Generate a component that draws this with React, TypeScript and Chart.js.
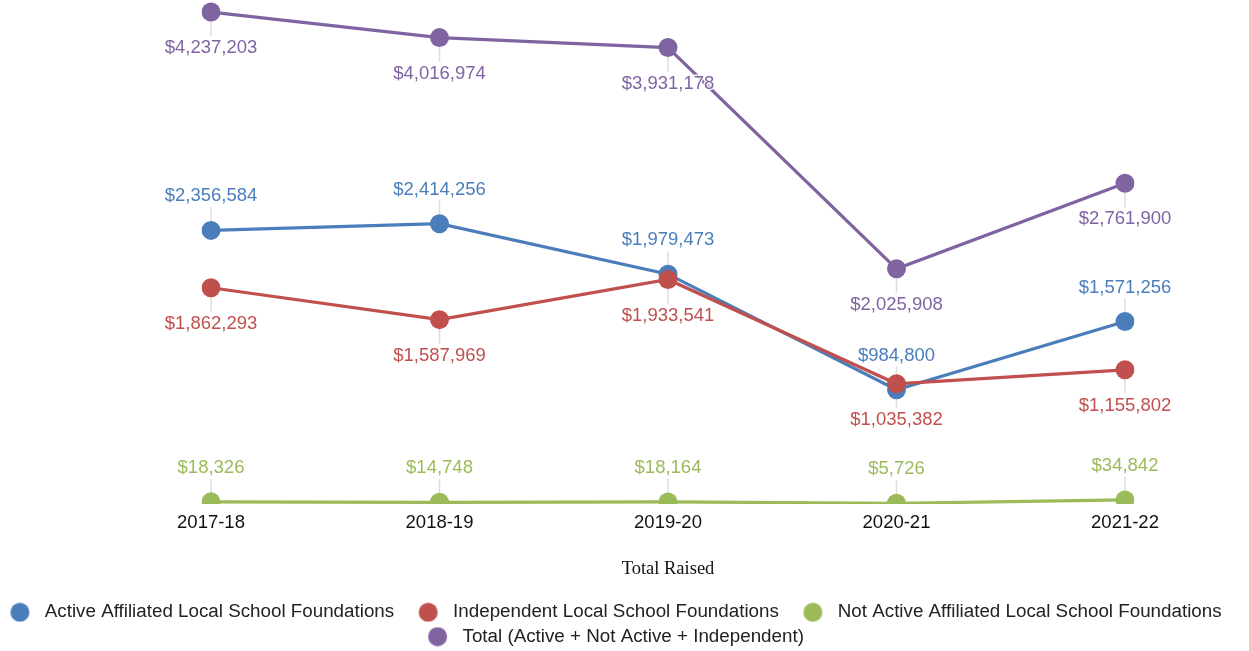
import React, { useEffect, useRef } from "react";
import { Chart, registerables } from "chart.js";

Chart.register(...registerables);

const categories = ["2017-18", "2018-19", "2019-20", "2020-21", "2021-22"];
const activeValues = [2356584, 2414256, 1979473, 984800, 1571256];
const independentValues = [1862293, 1587969, 1933541, 1035382, 1155802];
const notActiveValues = [18326, 14748, 18164, 5726, 34842];
const totalValues = [4237203, 4016974, 3931178, 2025908, 2761900];

const seriesNames = [
  "Active Affiliated Local School Foundations",
  "Independent Local School Foundations",
  "Not Active Affiliated Local School Foundations",
  "Total (Active + Not Active + Independent)",
];
const seriesColors = ["#4A7EBB", "#C0504D", "#9BBB59", "#8064A2"];
const labelSides = ["above", "below", "above", "below"];
const drawOrder = [1, 0, 2, 3];

const Y_MIN = 0;
const Y_MAX = 4341000;
const FONT = "'Liberation Sans', Arial, Helvetica, sans-serif";
const FONT_SIZE = 18.5;
const LEGEND_FONT_SIZE = 18.8;

const fmt = (v: number) => "$" + v.toLocaleString("en-US");

const leaderPlugin = {
  id: "leaderLines",
  beforeDatasetsDraw(chart: any) {
    const ctx = chart.ctx;
    ctx.save();
    ctx.strokeStyle = "#dedede";
    ctx.lineWidth = 1.5;
    chart.data.datasets.forEach((ds: any, di: number) => {
      const meta = chart.getDatasetMeta(di);
      const side = labelSides[di];
      meta.data.forEach((pt: any) => {
        ctx.beginPath();
        if (side === "above") {
          ctx.moveTo(pt.x, pt.y);
          ctx.lineTo(pt.x, pt.y - 23);
        } else {
          ctx.moveTo(pt.x, pt.y);
          ctx.lineTo(pt.x, pt.y + 24);
        }
        ctx.stroke();
      });
    });
    ctx.restore();
  },
  afterDatasetsDraw(chart: any) {
    const ctx = chart.ctx;
    ctx.save();
    ctx.font = `${FONT_SIZE}px ${FONT}`;
    ctx.textAlign = "center";
    ctx.textBaseline = "middle";
    ctx.lineJoin = "round";
    chart.data.datasets.forEach((ds: any, di: number) => {
      const meta = chart.getDatasetMeta(di);
      const side = labelSides[di];
      meta.data.forEach((pt: any, i: number) => {
        const text = fmt(ds.data[i]);
        const y = side === "above" ? pt.y - 34 : pt.y + 36;
        ctx.strokeStyle = "rgba(255,255,255,0.85)";
        ctx.lineWidth = 3;
        ctx.strokeText(text, pt.x, y);
        ctx.fillStyle = seriesColors[di];
        ctx.fillText(text, pt.x, y);
      });
    });
    ctx.restore();
  },
};

function makeMarker(color: string) {
  const c = document.createElement("canvas");
  c.width = 44;
  c.height = 20;
  const g = c.getContext("2d")!;
  g.fillStyle = color;
  g.beginPath();
  g.arc(28.5, 10, 9.5, 0, Math.PI * 2);
  g.fill();
  return c;
}

export default function App() {
  const ref = useRef<HTMLCanvasElement | null>(null);

  useEffect(() => {
    if (!ref.current) return;
    const markers = seriesColors.map(makeMarker);
    const valueSets = [activeValues, independentValues, notActiveValues, totalValues];
    const chart = new Chart(ref.current, {
      type: "line",
      data: {
        labels: categories,
        datasets: valueSets.map((vals, i) => ({
          label: seriesNames[i],
          data: vals,
          order: drawOrder[i],
          borderColor: seriesColors[i],
          backgroundColor: seriesColors[i],
          pointBackgroundColor: seriesColors[i],
          pointBorderColor: seriesColors[i],
          pointRadius: 9.5,
          pointBorderWidth: 0,
          borderWidth: 3.2,
          tension: 0,
          fill: false,
        })),
      },
      options: {
        animation: false,
        responsive: true,
        maintainAspectRatio: false,
        layout: { autoPadding: false, padding: { top: 0, bottom: -5, left: -18, right: 18 } },
        scales: {
          x: {
            offset: false,
            grid: { display: false, drawTicks: false, tickLength: 0 },
            border: { display: false },
            ticks: {
              color: "#111",
              padding: 8,
              font: { family: FONT, size: FONT_SIZE },
              maxRotation: 0,
            },
            title: {
              display: true,
              text: "Total Raised",
              color: "#111",
              font: { family: "'Liberation Serif', 'Times New Roman', serif", size: FONT_SIZE },
              padding: { top: 16, bottom: 17 },
            },
          },
          y: {
            min: Y_MIN,
            max: Y_MAX,
            display: true,
            position: "left",
            grid: { display: false, drawTicks: false },
            border: { display: false },
            ticks: { display: false },
            afterFit: (s: any) => {
              s.width = 229;
            },
          },
          yRight: {
            display: true,
            position: "right",
            grid: { display: false, drawTicks: false },
            border: { display: false },
            ticks: { display: false },
            afterFit: (s: any) => {
              s.width = 106;
            },
          },
        },
        plugins: {
          legend: {
            display: true,
            position: "bottom",
            labels: {
              usePointStyle: true,
              pointStyleWidth: 44,
              padding: 5.5,
              color: "#222",
              font: { family: FONT, size: LEGEND_FONT_SIZE },
              generateLabels: (c: any) => {
                const items = (Chart.defaults.plugins.legend.labels as any).generateLabels(c);
                items.sort((a: any, b: any) => a.datasetIndex - b.datasetIndex);
                items.forEach((it: any) => {
                  it.pointStyle = markers[it.datasetIndex];
                });
                return items;
              },
            },
          },
          tooltip: { enabled: false },
          title: { display: false },
        },
      } as any,
      plugins: [leaderPlugin],
    });
    return () => chart.destroy();
  }, []);

  return (
    <div style={{ position: "fixed", left: 0, top: 0, width: 1249, height: 651, background: "#fff" }}>
      <canvas ref={ref} />
    </div>
  );
}
